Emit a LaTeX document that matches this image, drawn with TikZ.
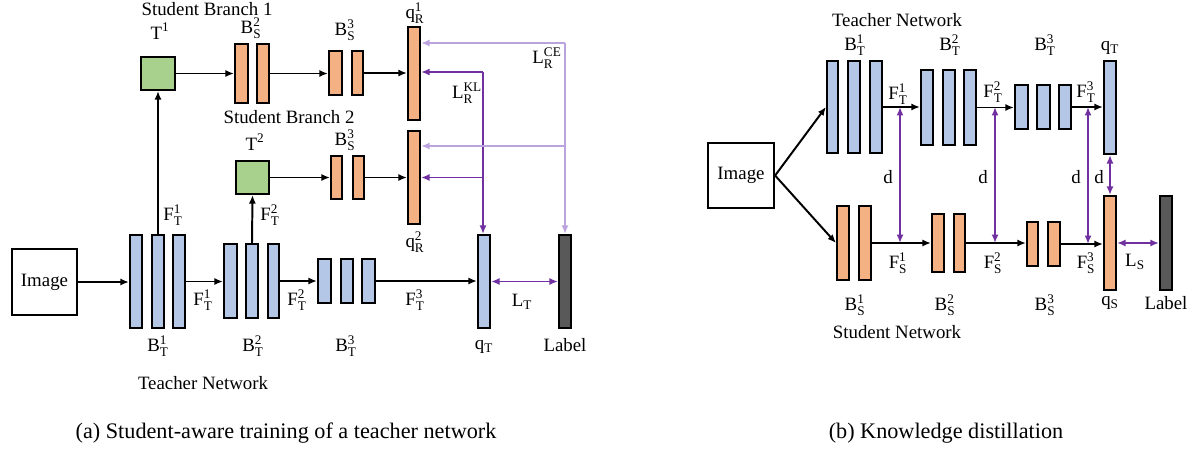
\documentclass[tikz,border=0pt]{standalone}
\usepackage{fontspec}
\setmainfont{Liberation Serif}
\usepackage{tikz}
\usetikzlibrary{arrows.meta}
\definecolor{tblue}{HTML}{B4C7E7}
\definecolor{sorange}{HTML}{F4B183}
\definecolor{tgreen}{HTML}{A9D18E}
\definecolor{lgray}{HTML}{595959}
\definecolor{kpurple}{HTML}{7030A0}
\definecolor{cpurple}{HTML}{BBA3DD}
\tikzset{
  blkbase/.style={draw, line width=1.2pt, inner sep=0pt},
  tbar/.style={blkbase, fill=tblue},
  sbar/.style={blkbase, fill=sorange},
  tfm/.style={blkbase, fill=tgreen},
  lbar/.style={blkbase, fill=lgray},
  imgbox/.style={blkbase, fill=white},
  lab/.style={inner sep=0pt, font=\fontsize{13.4}{15}\selectfont},
  captxt/.style={inner sep=0pt, font=\fontsize{15.8}{18}\selectfont},
  arr/.style={line width=1.4pt, -{Latex[length=6pt,width=5pt]}},
  kl/.style={draw=kpurple, line width=1.4pt, -{Latex[length=6pt,width=5pt]}},
  kld/.style={kl, {Latex[length=6pt,width=5pt]}-{Latex[length=6pt,width=5pt]}},
  ce/.style={draw=cpurple, line width=1.4pt, -{Latex[length=6pt,width=5pt]}}
}
\newcommand{\blk}[6]{\node[#1, minimum width={(#5-#3-1.5)*0.025cm}, minimum height={(#6-#4-1.5)*0.025cm}] (#2) at ({(#3+#5)/2},{(#4+#6)/2}) {};}
\newcommand{\txtnode}[4]{\node[lab] (#1) at (#2,#3) {#4};}
\newcommand{\lbsym}[3]{$\mathrm{#1}^{\mathrm{#2}}_{\mathrm{#3}}$}

\begin{document}
\begin{tikzpicture}[x=0.025cm, y=-0.025cm]
        \useasboundingbox (0,0) rectangle (1194,450);
        % (a) student-aware training
        \blk{imgbox}{img}{11}{248}{78}{316}
        \node[lab] at (img) {Image};
        \blk{tbar}{bta1}{129}{234}{143}{329}
        \blk{tbar}{btb1}{151}{234}{165}{329}
        \blk{tbar}{btc1}{172}{234}{186}{329}
        \blk{tbar}{bta2}{223}{243}{238}{319}
        \blk{tbar}{btb2}{245}{243}{259}{319}
        \blk{tbar}{btc2}{267}{243}{280}{319}
        \blk{tbar}{bta3}{317}{258}{332}{304}
        \blk{tbar}{btb3}{340}{258}{354}{304}
        \blk{tbar}{btc3}{361}{258}{376}{304}
        \blk{tbar}{qt}{477}{234}{491}{329}
        \blk{lbar}{lbl}{558}{234}{572}{329}
        \blk{tfm}{tf1}{140}{56}{176}{91}
        \blk{tfm}{tf2}{235}{160}{270}{195}
        \blk{sbar}{bsa2}{234}{43}{249}{104}
        \blk{sbar}{bsb2}{256}{43}{270}{104}
        \blk{sbar}{bsa3}{328}{50}{343}{96}
        \blk{sbar}{bsb3}{351}{50}{364}{96}
        \blk{sbar}{bra3}{330}{155}{343}{200}
        \blk{sbar}{brb3}{352}{155}{365}{200}
        \blk{sbar}{qr1}{407}{26}{421}{121}
        \blk{sbar}{qr2}{407}{130}{421}{225}
        \draw[arr] (img.east) -- (img.east -| bta1.west);
        \draw[arr] (btc1.east) -- (btc1.east -| bta2.west);
        \draw[arr] (btc2.east) -- (btc2.east -| bta3.west);
        \draw[arr] (btc3.east) -- (btc3.east -| qt.west);
        \draw[arr] (btb1.north) -- (tf1.south);
        \draw[arr] (btb2.north) -- (tf2.south);
        \draw[arr] (tf1.east) -- (tf1.east -| bsa2.west);
        \draw[arr] (bsb2.east) -- (bsb2.east -| bsa3.west);
        \draw[arr] (bsb3.east) -- (bsb3.east -| qr1.west);
        \draw[arr] (tf2.east) -- (tf2.east -| bra3.west);
        \draw[arr] (brb3.east) -- (brb3.east -| qr2.west);
        \draw[kld] (qt.east) -- (qt.east -| lbl.west);
        \coordinate (klc) at (483,72);
        \coordinate (cec) at (565,43);
        \draw[kl] (klc) -- (klc -| qr1.east);
        \draw[kl] (klc |- qr2) -- (qr2.east);
        \draw[kl] (klc) -- (klc |- qt.north);
        \draw[ce] (cec) -- (cec -| qr1.east);
        \draw[ce] (cec |- 0,146) -- (qr2.east |- 0,146);
        \draw[ce] (cec) -- (lbl.north);
        \txtnode{sb1}{207}{9}{Student Branch 1}
        \txtnode{sb2}{289}{117}{Student Branch 2}
        \txtnode{ltf1}{160}{31}{$\mathrm{T}^{\mathrm{1}}$}
        \txtnode{ltf2}{255}{142}{$\mathrm{T}^{\mathrm{2}}$}
        \txtnode{lbs2}{251}{28}{\lbsym{B}{2}{S}}
        \txtnode{lbs3}{345}{30}{\lbsym{B}{3}{S}}
        \txtnode{lbr3}{345}{140}{\lbsym{B}{3}{S}}
        \txtnode{lqr1}{415}{13}{\lbsym{q}{1}{R}}
        \txtnode{lqr2}{415}{242}{\lbsym{q}{2}{R}}
        \txtnode{lkl}{467}{93}{\lbsym{L}{KL}{R}}
        \txtnode{lce}{547}{58}{\lbsym{L}{CE}{R}}
        \txtnode{lfu1}{173}{215}{\lbsym{F}{1}{T}}
        \txtnode{lfu2}{270}{215}{\lbsym{F}{2}{T}}
        \txtnode{lf1}{203}{300}{\lbsym{F}{1}{T}}
        \txtnode{lf2}{297}{300}{\lbsym{F}{2}{T}}
        \txtnode{lf3}{415}{300}{\lbsym{F}{3}{T}}
        \txtnode{llt}{522}{302}{$\mathrm{L}_{\mathrm{T}}$}
        \txtnode{lbt1}{158}{346}{\lbsym{B}{1}{T}}
        \txtnode{lbt2}{253}{346}{\lbsym{B}{2}{T}}
        \txtnode{lbt3}{346}{346}{\lbsym{B}{3}{T}}
        \txtnode{lqt}{484}{347}{$\mathrm{q}_{\mathrm{T}}$}
        \txtnode{llbl}{565}{345}{Label}
        \txtnode{ltn}{203}{383}{Teacher Network}
        \node[captxt] (capa) at (286,433) {(a) Student-aware training of a teacher network};
        % (b) knowledge distillation
        \blk{imgbox}{imgk}{707}{142}{775}{209}
        \node[lab] at (imgk) {Image};
        \blk{tbar}{kta1}{826}{60}{839}{154}
        \blk{tbar}{ktb1}{847}{60}{861}{154}
        \blk{tbar}{ktc1}{869}{60}{883}{154}
        \blk{tbar}{kta2}{920}{69}{934}{146}
        \blk{tbar}{ktb2}{942}{69}{956}{146}
        \blk{tbar}{ktc2}{963}{69}{977}{146}
        \blk{tbar}{kta3}{1014}{84}{1029}{130}
        \blk{tbar}{ktb3}{1036}{84}{1051}{130}
        \blk{tbar}{ktc3}{1058}{84}{1072}{130}
        \blk{tbar}{kqt}{1103}{60}{1117}{155}
        \blk{sbar}{ksa1}{836}{205}{850}{281}
        \blk{sbar}{ksb1}{858}{205}{872}{281}
        \blk{sbar}{ksa2}{931}{213}{945}{273}
        \blk{sbar}{ksb2}{953}{213}{966}{273}
        \blk{sbar}{ksa3}{1026}{221}{1039}{267}
        \blk{sbar}{ksb3}{1047}{221}{1061}{267}
        \blk{sbar}{kqs}{1103}{195}{1117}{291}
        \blk{lbar}{klbl}{1159}{195}{1173}{291}
        \draw[arr] (imgk.east) -- (kta1.west);
        \draw[arr] (imgk.east) -- (ksa1.west);
        \draw[arr] (ktc1.east) -- (ktc1.east -| kta2.west);
        \draw[arr] (ktc2.east) -- (ktc2.east -| kta3.west);
        \draw[arr] (ktc3.east) -- (ktc3.east -| kqt.west);
        \draw[arr] (ksb1.east) -- (ksb1.east -| ksa2.west);
        \draw[arr] (ksb2.east) -- (ksb2.east -| ksa3.west);
        \draw[arr] (ksb3.east) -- (ksb3.east -| kqs.west);
        \coordinate (kd1) at (900,107);
        \coordinate (kd2) at (995,107);
        \coordinate (kd3) at (1088,107);
        \draw[kld] (kd1) -- (kd1 |- ksb1.east);
        \draw[kld] (kd2) -- (kd2 |- ksb2.east);
        \draw[kld] (kd3) -- (kd3 |- ksb3.east);
        \draw[kld] (kqt.south) -- (kqs.north);
        \draw[kld] (kqs.east) -- (kqs.east -| klbl.west);
        \txtnode{ktn}{897}{20}{Teacher Network}
        \txtnode{ksn}{897}{332}{Student Network}
        \txtnode{lkt1}{855}{45}{\lbsym{B}{1}{T}}
        \txtnode{lkt2}{950}{45}{\lbsym{B}{2}{T}}
        \txtnode{lkt3}{1045}{45}{\lbsym{B}{3}{T}}
        \txtnode{lkqt}{1110}{48}{$\mathrm{q}_{\mathrm{T}}$}
        \txtnode{lkft1}{898}{94}{\lbsym{F}{1}{T}}
        \txtnode{lkft2}{993}{92}{\lbsym{F}{2}{T}}
        \txtnode{lkft3}{1086}{92}{\lbsym{F}{3}{T}}
        \txtnode{ld1}{888}{177}{d}
        \txtnode{ld2}{983}{177}{d}
        \txtnode{ld3}{1076}{177}{d}
        \txtnode{ld4}{1099}{177}{d}
        \txtnode{lkfs1}{898}{263}{\lbsym{F}{1}{S}}
        \txtnode{lkfs2}{993}{263}{\lbsym{F}{2}{S}}
        \txtnode{lkfs3}{1086}{263}{\lbsym{F}{3}{S}}
        \txtnode{lls}{1135}{262}{$\mathrm{L}_{\mathrm{S}}$}
        \txtnode{lks1}{855}{305}{\lbsym{B}{1}{S}}
        \txtnode{lks2}{945}{305}{\lbsym{B}{2}{S}}
        \txtnode{lks3}{1045}{305}{\lbsym{B}{3}{S}}
        \txtnode{lkqs}{1110}{303}{$\mathrm{q}_{\mathrm{S}}$}
        \txtnode{lklbl}{1166}{303}{Label}
        \node[captxt] (capb) at (946,433) {(b) Knowledge distillation};
    \end{tikzpicture}
\end{document}
